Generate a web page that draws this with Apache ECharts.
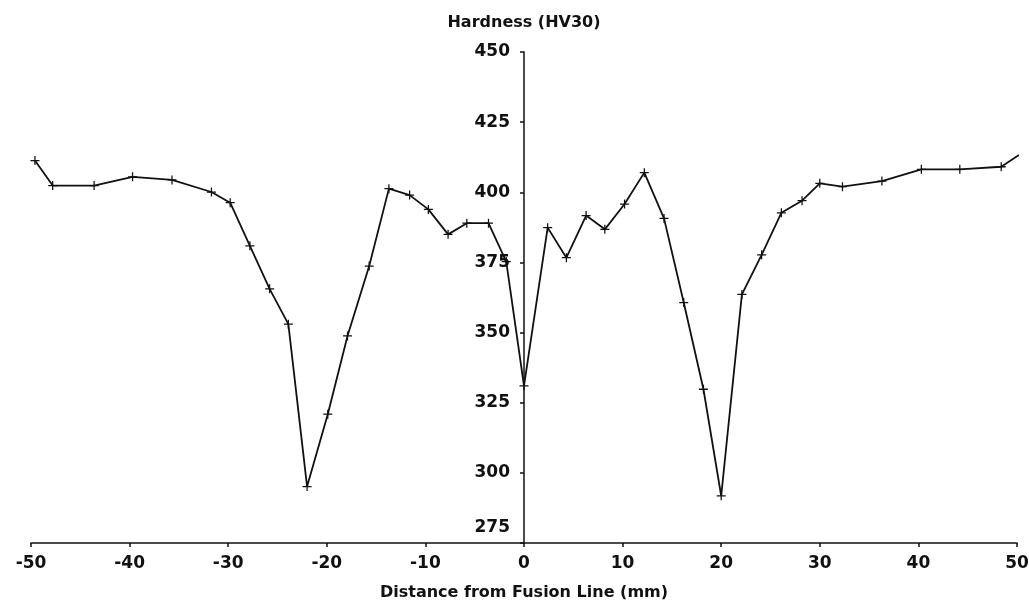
<!DOCTYPE html>
<html>
<head>
<meta charset="utf-8">
<script src="https://cdn.jsdelivr.net/npm/echarts@6/dist/echarts.min.js"></script>
<style>
  html, body { margin: 0; padding: 0; background: #fff; }
  #chart { width: 1029px; height: 604px; }
</style>
</head>
<body>
<div id="chart"></div>
<script>
// distance from fusion line (mm) and hardness (HV30)
var distance = [-49.6, -47.8, -43.6, -39.7, -35.7, -31.7, -29.8, -27.8, -25.8, -23.9,
                -22.0, -19.9, -17.9, -15.7, -13.7, -11.6, -9.7, -7.7, -5.8, -3.6, -1.8, 0,
                2.4, 4.3, 6.3, 8.2, 10.2, 12.2, 14.2, 16.2, 18.2, 20.0, 22.1, 24.1, 26.1,
                28.2, 30.0, 32.3, 36.3, 40.3, 44.2, 48.4, 50.2];
var hardness = [411.3, 402.4, 402.4, 405.5, 404.4, 400.1, 396.3, 380.9, 365.6, 353.0,
                295.1, 320.9, 348.8, 373.7, 401.3, 399.0, 393.9, 385.0, 389.0, 389.0, 375.3, 331.0,
                387.4, 376.7, 391.7, 386.8, 395.8, 407.0, 390.7, 360.7, 329.8, 291.8, 363.6, 377.7, 392.7,
                397.0, 403.2, 402.0, 404.0, 408.2, 408.2, 409.1, 413.3];

var points = distance.map(function (d, i) { return [d, hardness[i]]; });

var font = '"DejaVu Sans", sans-serif';
var cross = 'path://M4.3,0H5.7V4.3H10V5.7H5.7V10H4.3V5.7H0V4.3H4.3Z';

var gridLeft = 31, gridRight = 12;
var plotW = 1029 - gridLeft - gridRight;
// the hardness axis stands at distance 0, in the middle of the plot
var yAxisOffset = -plotW / 2;

var chart = echarts.init(document.getElementById('chart'));
chart.setOption({
    animation: false,
    backgroundColor: '#fff',
    grid: {left: gridLeft, right: gridRight, top: 52, bottom: 61, containLabel: false, outerBoundsMode: 'none'},
    xAxis: {
        type: 'value',
        min: -50,
        max: 50,
        interval: 10,
        name: 'Distance from Fusion Line (mm)',
        nameLocation: 'middle',
        nameGap: 42,
        nameTextStyle: {color: '#111', fontFamily: font, fontSize: 16, fontWeight: 'bold'},
        axisLine: {onZero: false, lineStyle: {color: '#111', width: 1.5}},
        axisTick: {show: true, length: 4, lineStyle: {color: '#111', width: 1.5}},
        axisLabel: {color: '#111', fontFamily: font, fontSize: 17, fontWeight: 'bold', margin: 12},
        splitLine: {show: false}
    },
    yAxis: {
        type: 'value',
        min: 275,
        max: 450,
        interval: 25,
        position: 'left',
        offset: yAxisOffset,
        name: 'Hardness (HV30)',
        nameLocation: 'end',
        nameGap: 21,
        nameTextStyle: {color: '#111', fontFamily: font, fontSize: 16, fontWeight: 'bold', align: 'center'},
        axisLine: {onZero: false, lineStyle: {color: '#111', width: 1.5}},
        axisTick: {show: true, length: 4, lineStyle: {color: '#111', width: 1.5}},
        axisLabel: {
            color: '#111', fontFamily: font, fontSize: 17, fontWeight: 'bold', margin: 14,
            formatter: function (v) { return v === 275 ? '{low|275}' : String(v); },
            rich: {low: {fontFamily: font, fontSize: 17, fontWeight: 'bold', color: '#111', padding: [0, 0, 30, 0]}}
        },
        splitLine: {show: false}
    },
    series: [{
        type: 'line',
        data: points,
        symbol: cross,
        symbolSize: 9,
        showSymbol: true,
        lineStyle: {color: '#111', width: 1.8},
        itemStyle: {color: '#111'}
    }]
});
</script>
</body>
</html>
